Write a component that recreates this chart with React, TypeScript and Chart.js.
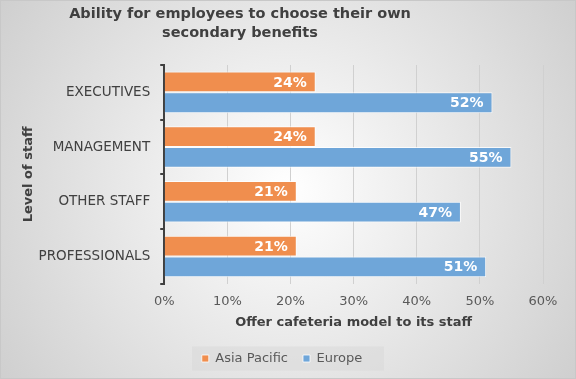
import React, { useEffect, useRef } from 'react';
import { Chart, registerables } from 'chart.js';
Chart.register(...registerables);

const titleLines = ['Ability for employees to choose their own', 'secondary benefits'];
const categories = ['EXECUTIVES', 'MANAGEMENT', 'OTHER STAFF', 'PROFESSIONALS'];
const seriesNames = ['Asia Pacific', 'Europe'];
const asiaPacific = [24, 24, 21, 21];
const europe = [52, 55, 47, 51];
const xAxisTitle = 'Offer cafeteria model to its staff';
const yAxisTitle = 'Level of staff';

const FONT = "'DejaVu Sans', Verdana, sans-serif";

const bgPlugin = {
  id: 'bg',
  beforeDraw(chart: any) {
    const { ctx, width, height } = chart;
    ctx.save();
    const g = ctx.createRadialGradient(width / 2, height / 2, 0, width / 2, height / 2, Math.hypot(width, height) / 2);
    g.addColorStop(0, '#ffffff');
    g.addColorStop(1, '#cfcfcf');
    ctx.fillStyle = g;
    ctx.fillRect(0, 0, width, height);
    ctx.strokeStyle = '#c8c8c8';
    ctx.lineWidth = 1;
    ctx.strokeRect(0.5, 0.5, width - 1, height - 1);
    // legend background
    const lg = chart.legend;
    if (lg && lg.legendHitBoxes && lg.legendHitBoxes.length) {
      const hb = lg.legendHitBoxes[0];
      const cy = hb.top + hb.height / 2;
      ctx.fillStyle = 'rgba(217,217,217,0.55)';
      ctx.fillRect(192, cy - 12, 192, 24);
    }
    // title
    ctx.fillStyle = '#404040';
    ctx.font = `bold 14.5px ${FONT}`;
    ctx.textAlign = 'center';
    ctx.textBaseline = 'middle';
    ctx.fillText(titleLines[0], 240, 14);
    ctx.fillText(titleLines[1], 240, 33);
    ctx.restore();
  },
};

const labelPlugin = {
  id: 'dlabels',
  afterDatasetsDraw(chart: any) {
    const { ctx } = chart;
    ctx.save();
    ctx.fillStyle = '#ffffff';
    ctx.font = `bold 14px ${FONT}`;
    ctx.textAlign = 'right';
    ctx.textBaseline = 'middle';
    chart.data.datasets.forEach((ds: any, i: number) => {
      const meta = chart.getDatasetMeta(i);
      meta.data.forEach((bar: any, j: number) => {
        ctx.fillText(ds.data[j] + '%', bar.x - 9, bar.y + 1);
      });
    });
    ctx.restore();
  },
};

export default function App() {
  const ref = useRef<HTMLCanvasElement>(null);
  useEffect(() => {
    const chart = new Chart(ref.current!, {
      type: 'bar',
      data: {
        labels: categories,
        datasets: [
          {
            label: seriesNames[0],
            data: asiaPacific,
            backgroundColor: '#f08e4e',
            borderColor: 'rgba(255,255,255,0.8)',
            borderWidth: 1,
            categoryPercentage: 0.76,
            barPercentage: 1,
          },
          {
            label: seriesNames[1],
            data: europe,
            backgroundColor: '#6fa6d9',
            borderColor: 'rgba(255,255,255,0.8)',
            borderWidth: 1,
            categoryPercentage: 0.76,
            barPercentage: 1,
          },
        ],
      },
      options: {
        indexAxis: 'y',
        responsive: false,
        animation: false,
        layout: { padding: { top: 65, left: 21, right: 33, bottom: 4 } },
        plugins: {
          title: { display: false },
          tooltip: { enabled: false },
          legend: {
            position: 'bottom',
            labels: {
              boxWidth: 7,
              boxHeight: 7,
              color: '#595959',
              font: { family: FONT, size: 13 },
              padding: 15,
            },
          },
        },
        scales: {
          x: {
            min: 0,
            max: 60,
            ticks: {
              stepSize: 10,
              callback: (v: any) => v + '%',
              color: '#595959',
              font: { family: FONT, size: 13 },
              padding: 10,
            },
            grid: { color: '#d0d0d0', drawTicks: false, tickLength: 0 },
            border: { display: false },
            title: {
              display: true,
              text: xAxisTitle,
              color: '#404040',
              font: { family: FONT, size: 13, weight: 'bold' },
              padding: { top: -5, bottom: 7 },
            },
          },
          y: {
            ticks: {
              color: '#404040',
              font: { family: FONT, size: 13.5 },
              padding: 10,
            },
            grid: {
              offset: true,
              drawOnChartArea: false,
              drawTicks: true,
              tickLength: 4,
              color: '#404040',
              lineWidth: 2,
            },
            border: { display: true, color: '#404040', width: 2 },
            title: {
              display: true,
              text: yAxisTitle,
              color: '#404040',
              font: { family: FONT, size: 13, weight: 'bold' },
              padding: { top: 0, bottom: -8 },
            },
          },
        },
      },
      plugins: [bgPlugin, labelPlugin],
    } as any);
    return () => chart.destroy();
  }, []);
  return (
    <div style={{ position: 'fixed', left: 0, top: 0, width: 576, height: 379 }}>
      <canvas ref={ref} width={576} height={379} style={{ display: 'block' }} />
    </div>
  );
}
